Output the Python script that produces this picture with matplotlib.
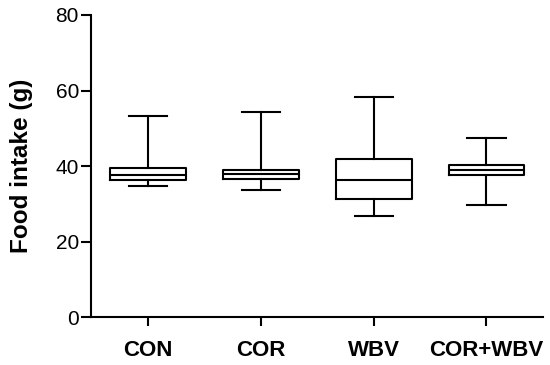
import matplotlib
matplotlib.use("Agg")
from matplotlib import pyplot as plt

# 各组数据
groups = ["CON", "COR", "WBV", "COR+WBV"]
whisker_low = [34.8, 33.6, 26.7, 29.6]
q1 = [36.3, 36.6, 31.4, 37.7]
median = [37.6, 37.8, 36.3, 38.9]
q3 = [39.6, 39.0, 41.8, 40.3]
whisker_high = [53.3, 54.4, 58.4, 47.5]

plt.rcParams['font.family'] = ['Liberation Sans', 'DejaVu Sans']

fig = plt.figure(figsize=(5.5, 3.65), dpi=100)
ax = fig.add_axes([0.165, 0.1307, 0.822, 0.8283])

stats = []
for i in range(len(groups)):
    stats.append({'label': groups[i], 'whislo': whisker_low[i], 'q1': q1[i],
                  'med': median[i], 'q3': q3[i], 'whishi': whisker_high[i],
                  'fliers': []})

lw = 1.5
ax.bxp(stats, positions=range(1, len(groups) + 1), widths=0.67, showfliers=False,
       boxprops=dict(color='black', linewidth=lw),
       medianprops=dict(color='black', linewidth=lw),
       whiskerprops=dict(color='black', linewidth=lw),
       capprops=dict(color='black', linewidth=lw),
       capwidths=0.34)

ax.set_xlim(0.49, 4.5)
ax.set_ylim(0, 80)
ax.set_yticks([0, 20, 40, 60, 80])
ax.spines['top'].set_visible(False)
ax.spines['right'].set_visible(False)
ax.spines['left'].set_linewidth(lw)
ax.spines['bottom'].set_linewidth(lw)
ax.tick_params(axis='y', length=7.5, width=lw, labelsize=15, pad=1)
ax.tick_params(axis='x', length=6.5, width=lw, labelsize=16, pad=10)
for t in ax.get_xticklabels():
    t.set_fontweight('bold')
ax.set_ylabel("Food intake (g)", fontsize=17.5, fontweight='bold')
ax.yaxis.set_label_coords(-0.128, 0.5)

fig.savefig("out.png", dpi=100)
